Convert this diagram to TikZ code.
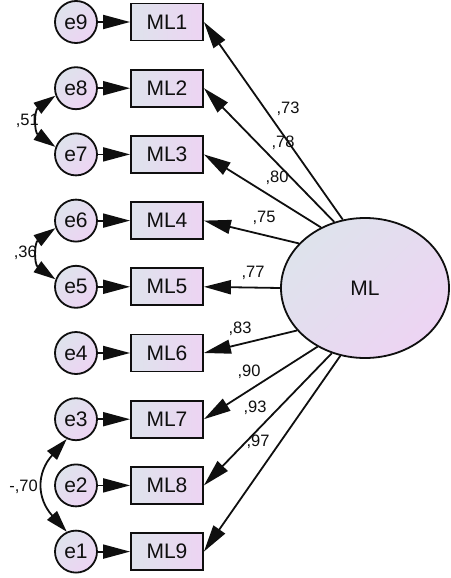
\documentclass[tikz,border=0pt]{standalone}
\usepackage{fontspec}
\setmainfont{Liberation Sans}
\usetikzlibrary{arrows.meta,shapes.geometric}
\definecolor{gA}{RGB}{222,227,236}
\definecolor{gB}{RGB}{237,212,243}
\definecolor{ln}{RGB}{15,15,15}
\begin{document}
\begin{tikzpicture}[x=1pt,y=1pt,
  obs/.style={draw=ln, line width=1.8pt, minimum width=72pt, minimum height=37pt, inner sep=0pt,
    left color=gA, right color=gB, text=ln, font=\fontsize{21}{25}\selectfont},
  err/.style={circle, draw=ln, line width=1.8pt, minimum size=42pt, inner sep=0pt,
    top color=gA, bottom color=gB, shading angle=45, text=ln, font=\fontsize{21}{25}\selectfont},
  lat/.style={ellipse, draw=ln, line width=1.8pt, minimum width=168pt, minimum height=140pt, inner sep=0pt,
    top color=gA, bottom color=gB, shading angle=45, text=ln, font=\fontsize{21}{25}\selectfont},
  arr/.style={line width=1.8pt, draw=ln, -{Triangle[length=27pt,width=14pt]}},
  cov/.style={line width=1.8pt, draw=ln, {Triangle[length=22pt,width=13pt]}-{Triangle[length=22pt,width=13pt]}},
  lbl/.style={font=\fontsize{16.5}{20}\selectfont, text=ln, inner sep=0pt}
]
\useasboundingbox (0,0) rectangle (450,-578);
% observed
\node[obs] (ML1) at (167,-22) {ML1};
\node[obs] (ML2) at (167,-88.2) {ML2};
\node[obs] (ML3) at (167,-154.4) {ML3};
\node[obs] (ML4) at (167,-220.6) {ML4};
\node[obs] (ML5) at (167,-286.8) {ML5};
\node[obs] (ML6) at (167,-353) {ML6};
\node[obs] (ML7) at (167,-419.2) {ML7};
\node[obs] (ML8) at (167,-485.4) {ML8};
\node[obs] (ML9) at (167,-551.6) {ML9};
% errors
\node[err] (e9) at (76,-22) {e9};
\node[err] (e8) at (76,-88.2) {e8};
\node[err] (e7) at (76,-154.4) {e7};
\node[err] (e6) at (76,-220.6) {e6};
\node[err] (e5) at (76,-286.8) {e5};
\node[err] (e4) at (76,-353) {e4};
\node[err] (e3) at (76,-419.2) {e3};
\node[err] (e2) at (76,-485.4) {e2};
\node[err] (e1) at (76,-551.6) {e1};
% latent
\node[lat] (ML) at (365,-288) {ML};
% error arrows
\draw[arr] (e9) -- (ML1);
\draw[arr] (e8) -- (ML2);
\draw[arr] (e7) -- (ML3);
\draw[arr] (e6) -- (ML4);
\draw[arr] (e5) -- (ML5);
\draw[arr] (e4) -- (ML6);
\draw[arr] (e3) -- (ML7);
\draw[arr] (e2) -- (ML8);
\draw[arr] (e1) -- (ML9);
% loadings
\draw[arr] (ML.108.7) -- (ML1.east);
\draw[arr] (ML.115.9) -- (ML2.east);
\draw[arr] (ML.126.4) -- (ML3.east);
\draw[arr] (ML.146.5) -- (ML4.east);
\draw[arr] (ML.180) -- (ML5.east);
\draw[arr] (ML.212.9) -- (ML6.east);
\draw[arr] (ML.231.9) -- (ML7.east);
\draw[arr] (ML.243) -- (ML8.east);
\draw[arr] (ML.250) -- (ML9.east);
\node[lbl] (l1) at (288,-109) {,73};
\node[lbl] (l2) at (283,-143) {,78};
\node[lbl] (l3) at (277,-178) {,80};
\node[lbl] (l4) at (264,-218) {,75};
\node[lbl] (l5) at (253,-273) {,77};
\node[lbl] (l6) at (240,-329) {,83};
\node[lbl] (l7) at (249,-372) {,90};
\node[lbl] (l8) at (255,-408) {,93};
\node[lbl] (l9) at (258,-442) {,97};
% covariances
\draw[cov] (e8.200) to[out=215,in=145,looseness=1.3] (e7.160);
\draw[cov] (e6.200) to[out=215,in=145,looseness=1.3] (e5.160);
\draw[cov] (e3.245) to[out=228,in=132,looseness=1.25] (e1.115);
\node[lbl,anchor=east] (c1) at (39,-121) {,51};
\node[lbl,anchor=east] (c2) at (37,-253) {,36};
\node[lbl,anchor=east] (c3) at (38,-487) {-,70};
\end{tikzpicture}
\end{document}
